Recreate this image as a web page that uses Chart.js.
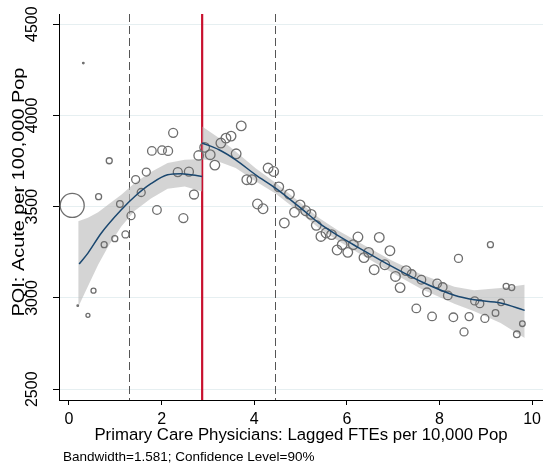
<!DOCTYPE html>
<html>
<head>
<meta charset="utf-8">
<script src="https://cdn.jsdelivr.net/npm/chart.js@4.4.1/dist/chart.umd.min.js"></script>
<style>
  html, body { margin: 0; padding: 0; background: #fff; }
</style>
</head>
<body>
<canvas id="rd" width="546" height="472"></canvas>
<script>
// RD plot: binned means either side of the cutoff, local fit + 90% CI band

const cutoff = 2.876;
const bandwidth = 1.581;

const xTicks = [0, 2, 4, 6, 8, 10];
const yTicks = [2500, 3000, 3500, 4000, 4500];
const xTitle = 'Primary Care Physicians: Lagged FTEs per 10,000 Pop';
const yTitle = 'PQI: Acute per 100,000 Pop';
const note = 'Bandwidth=1.581; Confidence Level=90%';

// binned scatter, left of cutoff
const leftBinX = [0.07, 0.19, 0.31, 0.41, 0.53, 0.64, 0.76, 0.87, 0.99, 1.10, 1.22, 1.34, 1.44,
  1.56, 1.67, 1.79, 1.90, 2.01, 2.14, 2.25, 2.35, 2.47, 2.59, 2.70, 2.80];
const leftBinY = [3507, 2958, 4287, 2905, 3040, 3555, 3292, 3752, 3325, 3515, 3348, 3451, 3649,
  3578, 3690, 3806, 3482, 3810, 3806, 3905, 3690, 3438, 3692, 3567, 3781];
const leftBinSize = [12, 0.8, 0.8, 2, 2.5, 3, 3, 3, 3, 3.3, 3.5, 4, 4,
  4, 4, 4.3, 4.3, 4.3, 4.5, 4.5, 4.5, 4.5, 4.5, 4.5, 4.7];

// binned scatter, right of cutoff
const rightBinX = [2.93, 3.05, 3.15, 3.28, 3.39, 3.50, 3.61, 3.72, 3.84, 3.95,
  4.07, 4.19, 4.30, 4.42, 4.53, 4.65, 4.76, 4.87, 4.99,
  5.11, 5.23, 5.34, 5.44, 5.55, 5.67, 5.79, 5.90,
  6.02, 6.14, 6.24, 6.37, 6.47, 6.59, 6.70, 6.82, 6.93,
  7.05, 7.15, 7.28, 7.40, 7.50, 7.61, 7.73, 7.84, 7.95,
  8.07, 8.18, 8.30, 8.41, 8.53, 8.64, 8.76, 8.87, 8.98,
  9.10, 9.21, 9.33, 9.44, 9.56, 9.67, 9.79];
const rightBinY = [3825, 3785, 3728, 3849, 3876, 3887, 3790, 3943, 3648, 3648,
  3515, 3489, 3712, 3693, 3609, 3411, 3569, 3470, 3510,
  3478, 3458, 3398, 3337, 3356, 3347, 3263, 3292,
  3250, 3292, 3334, 3221, 3250, 3155, 3332, 3182, 3259,
  3118, 3057, 3150, 3131, 2943, 3100, 3031, 2899, 3080,
  3060, 3014, 2894, 3217, 2814, 2898, 2984, 2969, 2888,
  3292, 2918, 2976, 3064, 3057, 2801, 2859];
const rightBinSize = [4.8, 4.8, 4.8, 4.8, 4.8, 4.8, 4.8, 4.8, 4.8, 4.8,
  4.8, 4.8, 4.8, 4.8, 4.8, 4.8, 4.8, 4.8, 4.8,
  4.8, 4.8, 4.8, 4.8, 4.8, 4.8, 4.8, 4.8,
  4.8, 4.8, 4.8, 4.8, 4.8, 4.8, 4.8, 4.8, 4.8,
  4.8, 4.8, 4.8, 4.3, 4.3, 4.3, 4.3, 4.3, 4.3,
  4.3, 4.3, 4.3, 4, 4, 4, 4, 4, 4,
  3, 3.3, 3.3, 3, 3, 3.3, 2.8];

// local polynomial fit, left side
const leftFitX = [0.22, 0.41, 0.70, 1.13, 1.42, 1.77, 2.13, 2.42, 2.876];
const leftFitY = [3186, 3246, 3356, 3483, 3556, 3626, 3675, 3681, 3666];
// 90% CI, left side
const leftBandX = [0.20, 0.41, 0.63, 0.85, 1.13, 1.42, 1.77, 2.13, 2.50, 2.876];
const leftBandHi = [3420, 3440, 3470, 3512, 3565, 3630, 3690, 3740, 3757, 3761];
const leftBandLo = [2950, 3064, 3182, 3283, 3392, 3478, 3545, 3598, 3611, 3584];

// local polynomial fit, right side
const rightFitX = [2.876, 3.24, 3.60, 4.03, 4.46, 4.96, 5.40, 5.82, 6.26, 6.97, 7.60, 8.32, 8.75, 9.32, 9.84];
const rightFitY = [3849, 3812, 3757, 3675, 3602, 3502, 3410, 3340, 3275, 3173, 3090, 3015, 2990, 2973, 2932];
// 90% CI, right side
const rightBandHi = [3940, 3877, 3802, 3711, 3632, 3530, 3438, 3368, 3305, 3206, 3130, 3061, 3042, 3055, 3073];
const rightBandLo = [3760, 3747, 3712, 3639, 3572, 3474, 3382, 3312, 3245, 3140, 3050, 2969, 2927, 2863, 2781];

const xMin = -0.215, xMax = 10.235;
const yMin = 2441, yMax = 4556;

const FONT = '"Liberation Sans", Arial, sans-serif';
const colors = {
  point: '#6e6e6e',
  fit: '#1a476f',
  band: 'rgba(185, 185, 185, 0.62)',
  cut: '#c8102e',
  bw: '#555555',
  grid: '#e6eff1'
};

const pts = (xs, ys) => xs.map((x, i) => ({ x, y: ys[i] }));

const overlay = {
  id: 'rdOverlay',
  beforeDatasetsDraw(chart) {
    const { ctx, chartArea: a, scales: { x } } = chart;
    ctx.save();
    // bandwidth limits
    ctx.strokeStyle = colors.bw;
    ctx.lineWidth = 1;
    ctx.setLineDash([8, 4]);
    [cutoff - bandwidth, cutoff + bandwidth].forEach(v => {
      const px = Math.round(x.getPixelForValue(v)) + 0.5;
      ctx.beginPath();
      ctx.moveTo(px, a.top);
      ctx.lineTo(px, a.bottom);
      ctx.stroke();
    });
    // cutoff
    ctx.setLineDash([]);
    ctx.strokeStyle = colors.cut;
    ctx.lineWidth = 2.2;
    const cx = x.getPixelForValue(cutoff);
    ctx.beginPath();
    ctx.moveTo(cx, a.top);
    ctx.lineTo(cx, a.bottom);
    ctx.stroke();
    ctx.restore();
  },
  afterDraw(chart) {
    const { ctx, scales: { y } } = chart;
    ctx.save();
    ctx.fillStyle = '#000';
    ctx.textAlign = 'center';
    ctx.textBaseline = 'middle';
    // vertical tick labels, Stata style
    ctx.font = '16px ' + FONT;
    yTicks.forEach(v => {
      ctx.save();
      ctx.translate(33, y.getPixelForValue(v));
      ctx.rotate(-Math.PI / 2);
      ctx.fillText(String(v), 0, 0);
      ctx.restore();
    });
    // axis title is a bit stretched along its baseline in the original
    ctx.font = '17px ' + FONT;
    ctx.save();
    ctx.translate(19, 192);
    ctx.rotate(-Math.PI / 2);
    ctx.scale(1.17, 1);
    ctx.fillText(yTitle, 0, 0);
    ctx.restore();
    // footnote
    ctx.textAlign = 'left';
    ctx.font = '13.5px ' + FONT;
    ctx.fillText(note, 63, 457);
    ctx.restore();
  }
};

new Chart(document.getElementById('rd'), {
  type: 'scatter',
  data: {
    datasets: [
      { data: pts(leftBandX, leftBandHi), showLine: true, pointRadius: 0, borderWidth: 0,
        borderColor: 'transparent', fill: false, order: 3 },
      { data: pts(leftBandX, leftBandLo), showLine: true, pointRadius: 0, borderWidth: 0,
        borderColor: 'transparent', backgroundColor: colors.band, fill: '-1', order: 3 },
      { data: pts(rightFitX, rightBandHi), showLine: true, pointRadius: 0, borderWidth: 0,
        borderColor: 'transparent', fill: false, order: 3 },
      { data: pts(rightFitX, rightBandLo), showLine: true, pointRadius: 0, borderWidth: 0,
        borderColor: 'transparent', backgroundColor: colors.band, fill: '-1', order: 3 },
      { data: pts(leftBinX, leftBinY), pointRadius: leftBinSize, pointBorderColor: colors.point,
        pointBackgroundColor: 'transparent', pointBorderWidth: 1.3, order: 2 },
      { data: pts(rightBinX, rightBinY), pointRadius: rightBinSize, pointBorderColor: colors.point,
        pointBackgroundColor: 'transparent', pointBorderWidth: 1.3, order: 2 },
      { data: pts(leftFitX, leftFitY), showLine: true, pointRadius: 0, borderColor: colors.fit,
        borderWidth: 1.5, cubicInterpolationMode: 'monotone', fill: false, order: 1 },
      { data: pts(rightFitX, rightFitY), showLine: true, pointRadius: 0, borderColor: colors.fit,
        borderWidth: 1.5, cubicInterpolationMode: 'monotone', fill: false, order: 1 }
    ]
  },
  options: {
    responsive: false,
    animation: false,
    layout: { autoPadding: false, padding: { top: 14, right: 0, left: 0, bottom: 0 } },
    plugins: {
      legend: { display: false },
      tooltip: { enabled: false }
    },
    scales: {
      x: {
        type: 'linear',
        min: xMin,
        max: xMax,
        afterBuildTicks: s => { s.ticks = xTicks.map(v => ({ value: v })); },
        afterFit: s => { s.height = 72; },
        grid: { drawOnChartArea: false, tickLength: 5, tickColor: '#000', color: '#000' },
        border: { color: '#000', width: 1 },
        ticks: { color: '#000', font: { family: FONT, size: 16 }, padding: 5, maxRotation: 0, autoSkip: false },
        title: { display: true, text: xTitle, color: '#000', font: { family: FONT, size: 16.8 },
          padding: { top: 0, bottom: 27 } }
      },
      y: {
        type: 'linear',
        min: yMin,
        max: yMax,
        afterBuildTicks: s => { s.ticks = yTicks.map(v => ({ value: v })); },
        afterFit: s => { s.width = 59; },
        grid: { color: colors.grid, tickLength: 6, tickColor: '#000', lineWidth: 1 },
        border: { color: '#000', width: 1 },
        ticks: { display: false }
      }
    }
  },
  plugins: [overlay]
});
</script>
</body>
</html>
